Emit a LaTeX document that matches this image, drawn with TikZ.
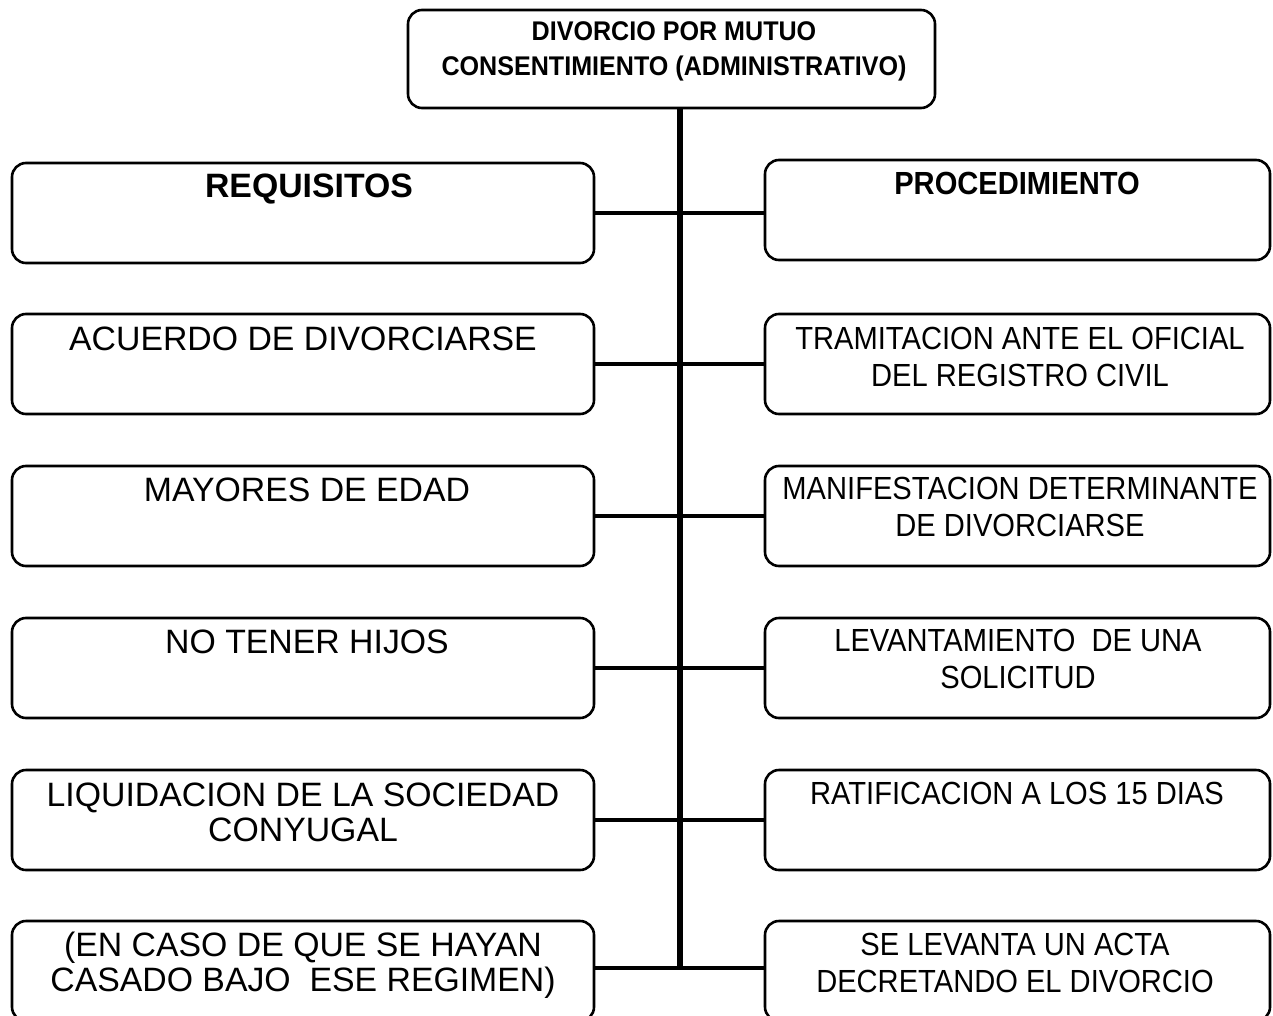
\documentclass[tikz,border=0pt]{standalone}
\usepackage{fontspec}
\setmainfont{Liberation Sans}
\newfontfamily\narrowfont[FakeStretch=0.91]{Liberation Sans}
\newfontfamily\topfont[FakeStretch=0.93]{Liberation Sans}
\begin{document}
\begin{tikzpicture}[x=1pt,y={(0pt,-1pt)},
  box/.style={draw, line width=2.6pt, rounded corners=14pt, inner sep=0pt, outer sep=0pt},
  lbox/.style={box, minimum width=582pt, minimum height=100pt},
  rbox/.style={box, minimum width=505pt, minimum height=100pt},
  ltext/.style={anchor=north, inner sep=0pt, align=center, font=\fontsize{33.8}{35}\selectfont},
  rtext/.style={anchor=north, inner sep=0pt, align=center, font=\narrowfont\fontsize{32}{37}\selectfont},
  conn/.style={line width=4.8pt},
  trunk/.style={line width=5.8pt}]
\useasboundingbox[fill=white] (0,0) rectangle (1273,1016);

% top box
\node[box, minimum width=527pt, minimum height=98pt] (top) at (671.5,59) {};
\node[anchor=north, inner sep=0pt, align=center, font=\topfont\bfseries\fontsize{27}{35}\selectfont] (toptxt) at (674,21) {DIVORCIO POR MUTUO\\CONSENTIMIENTO (ADMINISTRATIVO)};

% left boxes
\node[lbox] (l1) at (303,213) {};
\node[lbox] (l2) at (303,364) {};
\node[lbox] (l3) at (303,516) {};
\node[lbox] (l4) at (303,668) {};
\node[lbox] (l5) at (303,820) {};
\node[lbox] (l6) at (303,971) {};

% right boxes
\node[rbox] (r1) at (1017.5,210) {};
\node[rbox] (r2) at (1017.5,364) {};
\node[rbox] (r3) at (1017.5,516) {};
\node[rbox] (r4) at (1017.5,668) {};
\node[rbox] (r5) at (1017.5,820) {};
\node[rbox] (r6) at (1017.5,971) {};

% left texts
\node[ltext, font=\bfseries\fontsize{33.8}{35}\selectfont] (lt1) at (309,174) {REQUISITOS};
\node[ltext] (lt2) at (303,327) {ACUERDO DE DIVORCIARSE};
\node[ltext] (lt3) at (307,478) {MAYORES DE EDAD};
\node[ltext] (lt4) at (307,630) {NO TENER HIJOS};
\node[ltext] (lt5) at (303,783) {LIQUIDACION DE LA SOCIEDAD\\CONYUGAL};
\node[ltext] (lt6) at (303,932) {(EN CASO DE QUE SE HAYAN\\CASADO BAJO\ \ ESE REGIMEN)};

% right texts
\node[rtext, font=\narrowfont\bfseries\fontsize{32}{37}\selectfont] (rt1) at (1017,172) {PROCEDIMIENTO};
\node[rtext] (rt2) at (1020,327) {TRAMITACION ANTE EL OFICIAL\\DEL REGISTRO CIVIL};
\node[rtext] (rt3) at (1020,477) {MANIFESTACION DETERMINANTE\\DE DIVORCIARSE};
\node[rtext] (rt4) at (1018,629) {LEVANTAMIENTO\ \ DE UNA\\SOLICITUD};
\node[rtext] (rt5) at (1017,782) {RATIFICACION A LOS 15 DIAS};
\node[rtext] (rt6) at (1015,933) {SE LEVANTA UN ACTA\\DECRETANDO EL DIVORCIO};

% trunk
\coordinate (tb) at (680,968);
\draw[trunk] (top.south -| tb) -- (tb);

% connectors
\draw[conn] (l1.east) -- (r1.west |- l1.east);
\draw[conn] (l2.east) -- (r2.west);
\draw[conn] (l3.east) -- (r3.west);
\draw[conn] (l4.east) -- (r4.west);
\draw[conn] (l5.east) -- (r5.west);
\draw[conn] (l6.east |- tb) -- (r6.west |- tb);
\end{tikzpicture}
\end{document}
